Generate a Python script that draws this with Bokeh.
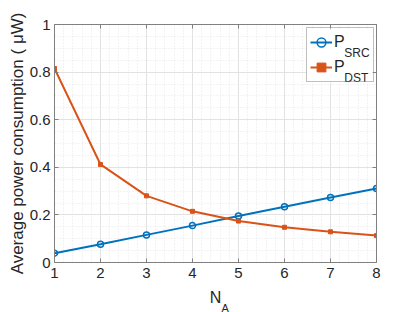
import numpy as np
from bokeh.plotting import figure
from bokeh.models import (LinearAxis, FixedTicker, Range1d, Label, Legend, LegendItem,
                          BoxAnnotation, Title)
from bokeh.embed import file_html
from bokeh.resources import INLINE

# ---- data ----
n_a = [1, 2, 3, 4, 5, 6, 7, 8]
p_src = [0.039, 0.077, 0.116, 0.155, 0.195, 0.234, 0.273, 0.311]
p_dst = [0.815, 0.412, 0.280, 0.215, 0.174, 0.148, 0.129, 0.113]
x_ticks = [1, 2, 3, 4, 5, 6, 7, 8]
y_ticks = [0, 0.2, 0.4, 0.6, 0.8, 1]
y_tick_labels = {0: "0", 0.2: "0.2", 0.4: "0.4", 0.6: "0.6", 0.8: "0.8", 1: "1"}

BLUE = "#0072BD"
ORANGE = "#D95319"
AXC = "#808080"
TXT = "#262626"
FONT = "Liberation Sans"

p = figure(width=408, height=312, output_backend="svg", toolbar_location=None,
           x_range=Range1d(1, 8), y_range=Range1d(0, 1),
           min_border_left=54, min_border_right=32, min_border_top=24, min_border_bottom=50)

x_minor = list(np.round(np.arange(1, 8.0001, 0.2), 3))
y_minor = list(np.round(np.arange(0, 1.0001, 0.05), 3))
xt = FixedTicker(ticks=x_ticks, minor_ticks=x_minor)
yt = FixedTicker(ticks=y_ticks, minor_ticks=y_minor)

p.xaxis.ticker = xt
p.yaxis.ticker = yt
p.yaxis.major_label_overrides = y_tick_labels

for ax in [p.xaxis[0], p.yaxis[0]]:
    ax.major_tick_in = 4
    ax.major_tick_out = 0
    ax.minor_tick_in = 0
    ax.minor_tick_out = 0
    ax.axis_line_color = AXC
    ax.major_tick_line_color = AXC
    ax.major_label_text_font = FONT
    ax.major_label_text_font_size = "15px"
    ax.major_label_text_color = TXT
    ax.axis_label_text_font = FONT
    ax.axis_label_text_font_style = "normal"
    ax.axis_label_text_color = TXT

p.xaxis.major_label_standoff = 5
p.yaxis.major_label_standoff = 4
p.xaxis.axis_label = "N"
p.xaxis.axis_label_text_font_size = "16px"
p.xaxis.axis_label_standoff = 8
p.yaxis.axis_label = "Average power consumption ( μW)"
p.yaxis.axis_label_text_font_size = "17px"
p.yaxis.axis_label_standoff = 0

for loc, tk in [("above", xt), ("right", yt)]:
    ax = LinearAxis(ticker=tk, major_label_text_font_size="0px", major_label_standoff=0,
                    major_tick_in=4, major_tick_out=0, minor_tick_in=0, minor_tick_out=0,
                    axis_line_color=AXC, major_tick_line_color=AXC)
    p.add_layout(ax, loc)

# subscript "A" of the x-axis label N_A
p.add_layout(Title(text="A", align="left", offset=167, standoff=-14, vertical_align="top",
                   text_font=FONT, text_font_size="11px", text_font_style="normal",
                   text_color=TXT), "below")

p.xgrid.grid_line_color = "#e2e2e2"
p.ygrid.grid_line_color = "#e2e2e2"
p.xgrid.minor_grid_line_color = "#e6e6e6"
p.ygrid.minor_grid_line_color = "#e6e6e6"
p.xgrid.minor_grid_line_dash = "1 2"
p.ygrid.minor_grid_line_dash = "1 2"
p.outline_line_color = None

l1 = p.line(n_a, p_src, line_color=BLUE, line_width=2)
m1 = p.scatter(n_a, p_src, marker="circle", size=6, line_color=BLUE, fill_color=None, line_width=1.5)
l2 = p.line(n_a, p_dst, line_color=ORANGE, line_width=2)
m2 = p.scatter(n_a, p_dst, marker="square", size=4, line_color=ORANGE, fill_color=ORANGE)

# white background of the legend box
p.add_layout(BoxAnnotation(left=6.478, right=7.913, bottom=0.756, top=0.979,
                           fill_color="white", fill_alpha=1.0, line_color=None))

legend = Legend(items=[LegendItem(label="P", renderers=[l1, m1]),
                       LegendItem(label="P", renderers=[l2, m2])],
                location=(252, 180), padding=3, spacing=3, margin=0,
                glyph_width=22, glyph_height=22, label_height=22, label_width=36,
                label_standoff=2, label_text_font=FONT, label_text_font_size="16px",
                label_text_color=TXT, label_text_baseline="alphabetic",
                border_line_color="#808080", border_line_width=1,
                background_fill_alpha=0.0)
p.add_layout(legend)

# legend subscripts
for txt, yy in [("SRC", 0.882), ("DST", 0.777)]:
    p.add_layout(Label(x=7.30, y=yy, text=txt,
                       text_font=FONT, text_font_size="12px", text_color=TXT,
                       text_baseline="alphabetic"))

open("out.html", "w").write(file_html(p, INLINE))
